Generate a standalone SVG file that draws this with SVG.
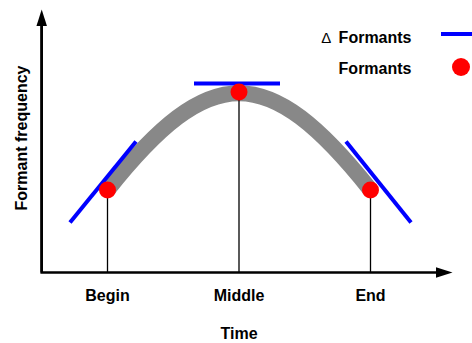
<svg xmlns="http://www.w3.org/2000/svg" width="472" height="343" viewBox="0 0 472 343">
<style>
text{font-family:"Liberation Sans",Arial,sans-serif;font-weight:bold;font-size:16px;fill:#000}
.axis{stroke:#000;stroke-width:2.6;fill:none}
.stem{stroke:#000;stroke-width:1.3}
.tan{stroke:#0000ff;stroke-width:4;stroke-linecap:butt}
.dot{fill:#ff0000}
</style>
<defs>
<marker id="ah" markerUnits="userSpaceOnUse" markerWidth="17" markerHeight="11" refX="0" refY="5.25" orient="auto">
<path d="M0,0 L16.5,5.25 L0,10.5 z" fill="#000"/>
</marker>
</defs>
<g id="curve">
<path d="M107.5,190 C210,61 268,61 370.5,190" fill="none" stroke="#888888" stroke-width="16"/>
</g>
<g id="connectors">
<line class="stem" x1="107.5" y1="190" x2="107.5" y2="272"/>
<line class="stem" x1="239" y1="92" x2="239" y2="272"/>
<line class="stem" x1="370.5" y1="190" x2="370.5" y2="272"/>
<path class="axis" d="M41.7,26 V272.5 H436" marker-end="url(#ah)"/>
<line class="axis" x1="41.7" y1="272.5" x2="41.7" y2="26" marker-end="url(#ah)"/>
</g>
<g id="tangents">
<line class="tan" x1="70" y1="222.5" x2="136" y2="141.5"/>
<line class="tan" x1="194" y1="83.5" x2="280" y2="83.5"/>
<line class="tan" x1="346" y1="141.5" x2="411" y2="222.5"/>
</g>
<g id="begin"><circle class="dot" cx="107.5" cy="190" r="8.5"/><text x="107.5" y="301" text-anchor="middle">Begin</text></g>
<g id="middle"><circle class="dot" cx="239" cy="92" r="8.5"/><text x="239" y="301" text-anchor="middle">Middle</text></g>
<g id="end"><circle class="dot" cx="370.5" cy="190" r="8.5"/><text x="370.5" y="301" text-anchor="middle">End</text></g>
<g id="labels">
<text x="239" y="338.5" text-anchor="middle">Time</text>
<text transform="translate(26.5,138) rotate(-90)" text-anchor="middle" font-size="16.5">Formant frequency</text>
</g>
<g id="legend">
<text x="411.5" y="42.7" text-anchor="end"><tspan font-weight="normal" font-size="15">Δ</tspan><tspan dx="3"> Formants</tspan></text>
<line class="tan" x1="441" y1="34" x2="472" y2="34"/>
<text x="411.5" y="74.3" text-anchor="end">Formants</text>
<circle class="dot" cx="461" cy="67" r="9"/>
</g>
</svg>
